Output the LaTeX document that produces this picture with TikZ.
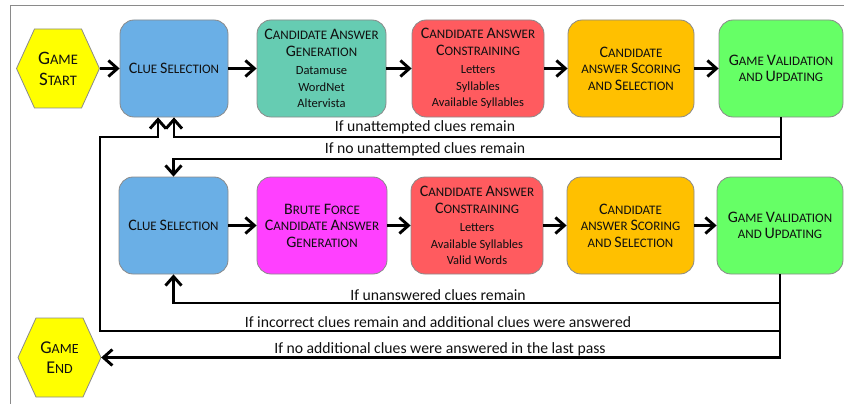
\documentclass[tikz,border=0pt]{standalone}
\usepackage{fontspec}
\setmainfont{Carlito}
\usetikzlibrary{arrows.meta,calc}
\definecolor{cblue}{HTML}{6AAFE6}
\definecolor{cteal}{HTML}{66CCB2}
\definecolor{cred}{HTML}{FF5B5F}
\definecolor{corange}{HTML}{FFC000}
\definecolor{cgreen}{HTML}{66FF66}
\definecolor{cmag}{HTML}{FF40FF}
\definecolor{cyel}{HTML}{FFFF00}
\definecolor{cedge}{HTML}{8A8A8A}
\definecolor{ctext}{HTML}{101010}
\newcommand\bigc[1]{{\fontsize{16}{16}\selectfont #1}}
\newcommand\hexbig[1]{{\fontsize{19}{19}\selectfont #1}}
\newcommand\hexbigb[1]{{\fontsize{18}{18}\selectfont #1}}
\newcommand\lst{\fontsize{12.5}{15.5}\selectfont}
\tikzset{
  box/.style={draw=cedge, line width=0.8pt, rounded corners=14pt, minimum height=97pt,
    align=center, text=ctext, inner sep=2pt, font=\fontsize{13}{16.5}\selectfont},
  hexnode/.style={minimum width=83pt, minimum height=79pt, align=center, text=ctext, inner sep=0pt},
  hexfill/.style={fill=cyel, draw=cedge, line width=0.8pt},
  arr/.style={line width=2.9pt, -{Straight Barb[length=9pt,width=16pt]}},
  lab/.style={font=\fontsize{15.7}{15.7}\selectfont, text=ctext, inner sep=0pt},
}
\begin{document}
\begin{tikzpicture}[x=1pt,y=-1pt]
\useasboundingbox (0,0) rectangle (844,404);
\draw[cedge, line width=0.8pt] (10.5,404) -- (10.5,5.5) -- (844,5.5);

% hexagons
\coordinate (gsc) at (58,68.5);
\coordinate (gec) at (59.5,357.5);
\fill[hexfill] ($(gsc)+(-41.5,0)$) -- ($(gsc)+(-23.5,-39.5)$) -- ($(gsc)+(23.5,-39.5)$) -- ($(gsc)+(41.5,0)$) -- ($(gsc)+(23.5,39.5)$) -- ($(gsc)+(-23.5,39.5)$) -- cycle;
\fill[hexfill] ($(gec)+(-41.5,0)$) -- ($(gec)+(-23.5,-39.5)$) -- ($(gec)+(23.5,-39.5)$) -- ($(gec)+(41.5,0)$) -- ($(gec)+(23.5,39.5)$) -- ($(gec)+(-23.5,39.5)$) -- cycle;
\node[hexnode, font=\fontsize{14.5}{21}\selectfont] (gs) at (gsc) {\hexbig{G}AME\\\hexbig{S}TART};
\node[hexnode, font=\fontsize{14}{20}\selectfont] (ge) at (gec) {\hexbigb{G}AME\\\hexbigb{E}ND};

% row 1
\node[box, fill=cblue, minimum width=108pt] (c1) at (174,68.5) {\bigc{C}LUE \bigc{S}ELECTION};
\node[box, fill=cteal, minimum width=129pt] (g1) at (321.5,68.5) {\bigc{C}ANDIDATE \bigc{A}NSWER\\\bigc{G}ENERATION\\[2pt]{\lst Datamuse}\\{\lst WordNet}\\{\lst Altervista}};
\node[box, fill=cred, minimum width=132pt] (k1) at (478,68.5) {\bigc{C}ANDIDATE \bigc{A}NSWER\\\bigc{C}ONSTRAINING\\[2pt]{\lst Letters}\\{\lst Syllables}\\{\lst Available Syllables}};
\node[box, fill=corange, minimum width=126pt] (s1) at (631,68.5) {\bigc{C}ANDIDATE\\ANSWER \bigc{S}CORING\\AND \bigc{S}ELECTION};
\node[box, fill=cgreen, minimum width=124pt] (v1) at (781,68.5) {\bigc{G}AME \bigc{V}ALIDATION\\AND \bigc{U}PDATING};

% row 2
\node[box, fill=cblue, minimum width=109pt] (c2) at (173.5,225.5) {\bigc{C}LUE \bigc{S}ELECTION};
\node[box, fill=cmag, minimum width=130pt] (b2) at (322,225.5) {\bigc{B}RUTE \bigc{F}ORCE\\\bigc{C}ANDIDATE \bigc{A}NSWER\\\bigc{G}ENERATION};
\node[box, fill=cred, minimum width=132pt] (k2) at (477,225.5) {\bigc{C}ANDIDATE \bigc{A}NSWER\\\bigc{C}ONSTRAINING\\[2pt]{\lst Letters}\\{\lst Available Syllables}\\{\lst Valid Words}};
\node[box, fill=corange, minimum width=127pt] (s2) at (630.5,225.5) {\bigc{C}ANDIDATE\\ANSWER \bigc{S}CORING\\AND \bigc{S}ELECTION};
\node[box, fill=cgreen, minimum width=126pt] (v2) at (780,225.5) {\bigc{G}AME \bigc{V}ALIDATION\\AND \bigc{U}PDATING};

% forward arrows
\draw[arr] (gs.east) -- (c1.west);
\draw[arr] (c1) -- (g1);
\draw[arr] (g1) -- (k1);
\draw[arr] (k1) -- (s1);
\draw[arr] (s1) -- (v1);
\draw[arr] (c2) -- (b2);
\draw[arr] (b2) -- (k2);
\draw[arr] (k2) -- (s2);
\draw[arr] (s2) -- (v2);

% loop coordinates
\coordinate (ya) at (0,137);
\coordinate (yb) at (0,159);
\coordinate (yc) at (0,303);
\coordinate (yd) at (0,331);
\coordinate (xd) at (100,0);
\coordinate (c1l) at ($(c1.south)+(-16,0)$);

\draw[arr] (v1.south) |- (ya -| c1.south) -- (c1.south);
\draw[arr] (v1.south) |- (yb -| c2.north) -- (c2.north);
\draw[arr] (v2.south) |- (yc -| c2.south) -- (c2.south);
\draw[arr] (v2.south) |- (yd -| xd) |- (ya -| c1l) -- (c1l);
\draw[arr] (v2.south) |- (ge.east);

% labels
\node[lab] (t1) at (425,127) {If unattempted clues remain};
\node[lab] (t2) at (425,149) {If no unattempted clues remain};
\node[lab] (t3) at (438,295) {If unanswered clues remain};
\node[lab] (t4) at (438,322) {If incorrect clues remain and additional clues were answered};
\node[lab] (t5) at (440,349) {If no additional clues were answered in the last pass};
\end{tikzpicture}
\end{document}
